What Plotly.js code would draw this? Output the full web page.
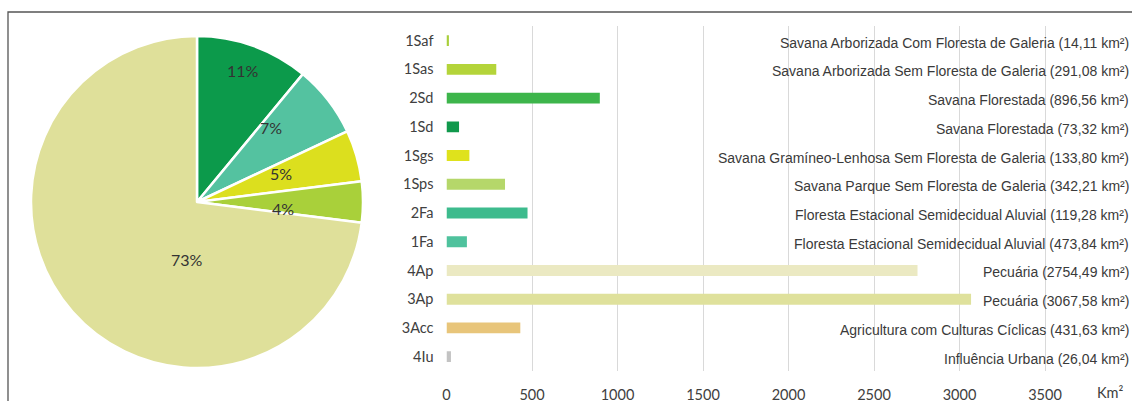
<!DOCTYPE html>
<html>
<head>
<meta charset="utf-8">
<script src="https://cdn.plot.ly/plotly-3.0.1.min.js"></script>
<style>html,body{margin:0;padding:0;background:#fff;}#chart{width:1132px;height:401px;}</style>
</head>
<body>
<div id="chart"></div>
<script>
// Pie data (clockwise from 12 o'clock)
const pieLabels = ["11%", "7%", "5%", "4%", "73%"];
const pieValues = [11, 7, 5, 4, 73];
const pieColors = ["#0c9a4b", "#54c2a0", "#dcdf1e", "#a9d03a", "#dfe09a"];

// Bar data (top to bottom)
const barCategories = ["1Saf", "1Sas", "2Sd", "1Sd", "1Sgs", "1Sps", "2Fa", "1Fa", "4Ap", "3Ap", "3Acc", "4Iu"];
const barValues = [14.11, 291.08, 896.56, 73.32, 133.80, 342.21, 473.84, 119.28, 2754.49, 3067.58, 431.63, 26.04];
const barColors = ["#a9cf3b", "#b4d43a", "#3db54b", "#10994c", "#dfe21c", "#b5d76a", "#3dbb8d", "#4fc29d", "#ebe9c2", "#dfe19c", "#e8c57a", "#c3c3c3"];
const barTexts = [
  "Savana Arborizada Com Floresta de Galeria (14,11 km²)",
  "Savana Arborizada Sem Floresta de Galeria (291,08 km²)",
  "Savana Florestada (896,56 km²)",
  "Savana Florestada (73,32 km²)",
  "Savana Gramíneo-Lenhosa Sem Floresta de Galeria (133,80 km²)",
  "Savana Parque Sem Floresta de Galeria (342,21 km²)",
  "Floresta Estacional Semidecidual Aluvial (119,28 km²)",
  "Floresta Estacional Semidecidual Aluvial (473,84 km²)",
  "Pecuária (2754,49 km²)",
  "Pecuária (3067,58 km²)",
  "Agricultura com Culturas Cíclicas (431,63 km²)",
  "Influência Urbana (26,04 km²)"
];
const xTickVals = [0, 500, 1000, 1500, 2000, 2500, 3000, 3500];
const xUnit = "Km²";

const W = 1132, H = 401;
const calibriLike = "Lato, 'Open Sans', sans-serif";

const pie = {
  type: "pie",
  values: pieValues,
  labels: pieLabels,
  textinfo: "none",
  sort: false,
  direction: "clockwise",
  rotation: 0,
  marker: {colors: pieColors, line: {color: "#ffffff", width: 2.5}},
  domain: {x: [31 / W, 363 / W], y: [33 / H, 365 / H]},
  hoverinfo: "none",
  showlegend: false
};

const bar = {
  type: "bar",
  orientation: "h",
  x: barValues,
  y: barCategories,
  marker: {color: barColors},
  width: 0.38,
  xaxis: "x",
  yaxis: "y",
  hoverinfo: "none",
  showlegend: false
};

const annotations = barCategories.map((c, i) => ({
  xref: "paper", yref: "y",
  x: 1131 / W, y: c,
  xanchor: "right", yanchor: "middle",
  yshift: -2,
  text: barTexts[i],
  showarrow: false,
  font: {family: "'Liberation Sans', Arial, sans-serif", size: 14, color: "#3a3a3a"}
}));
annotations.push({
  xref: "paper", yref: "paper",
  x: 1110 / W, y: (H - 392) / H,
  xanchor: "center", yanchor: "middle",
  text: xUnit, showarrow: false,
  font: {family: calibriLike, size: 14.5, color: "#404040"}
});
// pie percentage labels (placed as in the reference)
const pieLabelPos = [[243, 70], [271, 127], [281, 174], [283, 208], [187, 259]];
pieLabels.forEach((t, i) => annotations.push({
  xref: "paper", yref: "paper",
  x: pieLabelPos[i][0] / W, y: (H - pieLabelPos[i][1]) / H,
  xanchor: "center", yanchor: "middle",
  text: t, showarrow: false,
  font: {family: calibriLike, size: 16, color: "#333333"}
}));

const layout = {
  width: W, height: H,
  margin: {l: 0, r: 0, t: 0, b: 0},
  paper_bgcolor: "#ffffff",
  plot_bgcolor: "rgba(0,0,0,0)",
  xaxis: {
    domain: [446.5 / W, 1130.5 / W],
    range: [0, 4000],
    tickvals: xTickVals,
    ticktext: xTickVals.map(String),
    showgrid: true, gridcolor: "#d9d9d9", gridwidth: 1,
    zeroline: false, showline: false, ticks: "",
    ticklabelstandoff: 13,
    tickfont: {family: calibriLike, size: 14.5, color: "#404040"},
    fixedrange: true
  },
  yaxis: {
    domain: [(H - 371) / H, (H - 26.3) / H],
    type: "category",
    categoryorder: "array",
    categoryarray: barCategories,
    autorange: "reversed",
    showgrid: false, zeroline: false, showline: false, ticks: "",
    ticklabelstandoff: 12,
    tickfont: {family: calibriLike, size: 14.5, color: "#404040"},
    fixedrange: true
  },
  bargap: 0.62,
  annotations: annotations,
  shapes: [{
    type: "rect", xref: "paper", yref: "paper",
    x0: 8 / W, x1: 1.2, y0: -0.2, y1: (H - 12) / H,
    line: {color: "#555555", width: 1.3}, fillcolor: "rgba(0,0,0,0)", layer: "above"
  }]
};

Plotly.newPlot("chart", [pie, bar], layout, {displayModeBar: false, staticPlot: true});
</script>
</body>
</html>
